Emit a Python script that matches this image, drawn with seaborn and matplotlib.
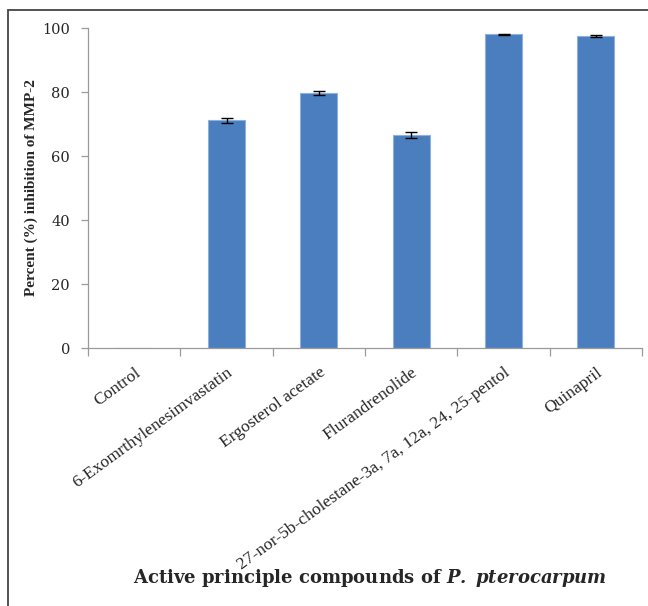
import matplotlib
matplotlib.use("Agg")
import matplotlib.pyplot as plt
import seaborn as sns
import pandas as pd
import numpy as np
from matplotlib.patches import Rectangle
from matplotlib.ticker import FixedLocator

categories = ["Control", "6-Exomrthylenesimvastatin", "Ergosterol acetate",
              "Flurandrenolide", "27-nor-5b-cholestane-3a, 7a, 12a, 24, 25-pentol",
              "Quinapril"]
values = [0.0, 71.2, 79.7, 66.5, 98.0, 97.5]
errors = [0.0, 0.8, 0.7, 0.9, 0.2, 0.4]
yticks = [0, 20, 40, 60, 80, 100]

sns.set_theme(style="white")
plt.rcParams["font.family"] = ["DejaVu Serif", "Liberation Serif"]
plt.rcParams["mathtext.fontset"] = "custom"
plt.rcParams["mathtext.bfit"] = "DejaVu Serif:italic:bold"
plt.rcParams["mathtext.rm"] = "DejaVu Serif:bold"

df = pd.DataFrame({"compound": categories, "inhibition": values})

fig = plt.figure(figsize=(6.48, 6.06), dpi=100)
ax = fig.add_axes([88/648, 1-348/606, (642-88)/648, (348-28)/606])

sns.barplot(data=df, x="compound", y="inhibition", order=categories,
            color="#4A7EBF", edgecolor="#8DB0DD", linewidth=0.8,
            width=0.4, errorbar=None, ax=ax, saturation=1)
ax.errorbar(x=np.arange(len(categories))[1:], y=values[1:], yerr=errors[1:],
            fmt="none", ecolor="black", elinewidth=1.0, capsize=4, capthick=1.0)

ax.set_xlim(-0.5, len(categories) - 0.5)
ax.set_ylim(0, 100)
ax.set_yticks(yticks)
ax.set_yticklabels([str(t) for t in yticks], fontsize=10.5)

for s in ["top", "right"]:
    ax.spines[s].set_visible(False)
for s in ["left", "bottom"]:
    ax.spines[s].set_color("#9a9a9a")
    ax.spines[s].set_linewidth(0.9)

ax.tick_params(axis="y", which="major", direction="out", length=5, color="#9a9a9a",
               width=0.9, left=True, pad=8)
ax.tick_params(axis="x", which="major", length=0, pad=12)
ax.xaxis.set_minor_locator(FixedLocator(np.arange(-0.5, len(categories), 1.0)))
ax.tick_params(axis="x", which="minor", direction="out", length=6, color="#9a9a9a",
               width=0.9, bottom=True)

ax.set_xticks(range(len(categories)))
ax.set_xticklabels(categories, rotation=36, ha="right", rotation_mode="anchor",
                   fontsize=12.6, family=["Liberation Serif", "DejaVu Serif"])

ax.set_xlabel("")
ax.set_ylabel("Percent (%) inhibition of MMP-2", fontsize=11, fontweight="bold",
              family=["Liberation Serif", "DejaVu Serif"], labelpad=3)

fig.text(0.571, 1-578/606, r"Active principle compounds of $\mathbfit{P.\ pterocarpum}$",
         ha="center", va="center", fontsize=13, fontweight="bold")

# figure frame (top and left visible)
fig.patches.append(Rectangle((8/648, -0.05), 1.2, 1-10/606 + 0.05,
                             transform=fig.transFigure, fill=False,
                             edgecolor="#444444", linewidth=1.3))

fig.savefig("out.png", dpi=100)
